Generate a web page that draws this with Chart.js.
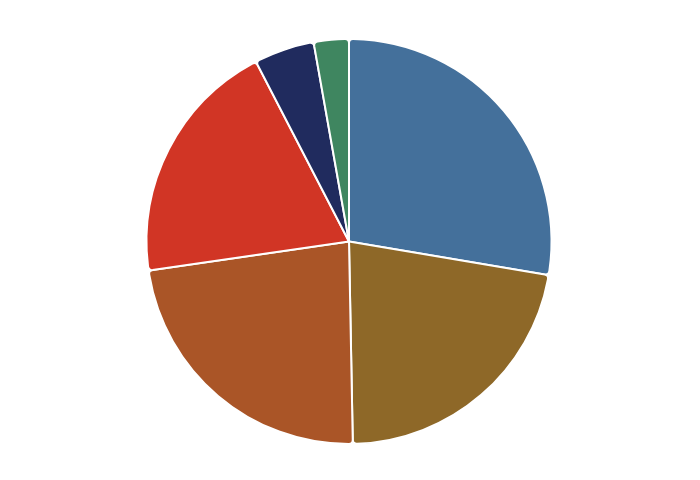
<!DOCTYPE html>
<html lang="en">
  <head>
    <meta charset="UTF-8" />
    <title>Pie</title>
    <script src="https://cdn.jsdelivr.net/npm/chart.js"></script>
    <style>
      html, body { margin: 0; padding: 0; background: #fff; }
      #wrap { width: 700px; height: 480px; }
    </style>
  </head>
  <body>
    <div id="wrap"><canvas id="pieChart"></canvas></div>
    <script>
      const labels = ["A", "B", "C", "D", "E", "F"];
      const values = [27.65, 22.05, 23.0, 19.7, 4.8, 2.8];
      const colors = ["#44709b", "#8e6828", "#aa5527", "#d13525", "#202b5e", "#3f8660"];

      new Chart(document.getElementById("pieChart").getContext("2d"), {
        type: "pie",
        data: {
          labels: labels,
          datasets: [
            {
              data: values,
              backgroundColor: colors,
              borderColor: "#ffffff",
              borderWidth: 2,
              borderRadius: 4,
            },
          ],
        },
        options: {
          responsive: true,
          maintainAspectRatio: false,
          animation: false,
          layout: { padding: { top: 38, bottom: 35, left: 0, right: 2 } },
          plugins: {
            legend: { display: false },
            tooltip: { enabled: false },
          },
        },
      });
    </script>
  </body>
</html>
